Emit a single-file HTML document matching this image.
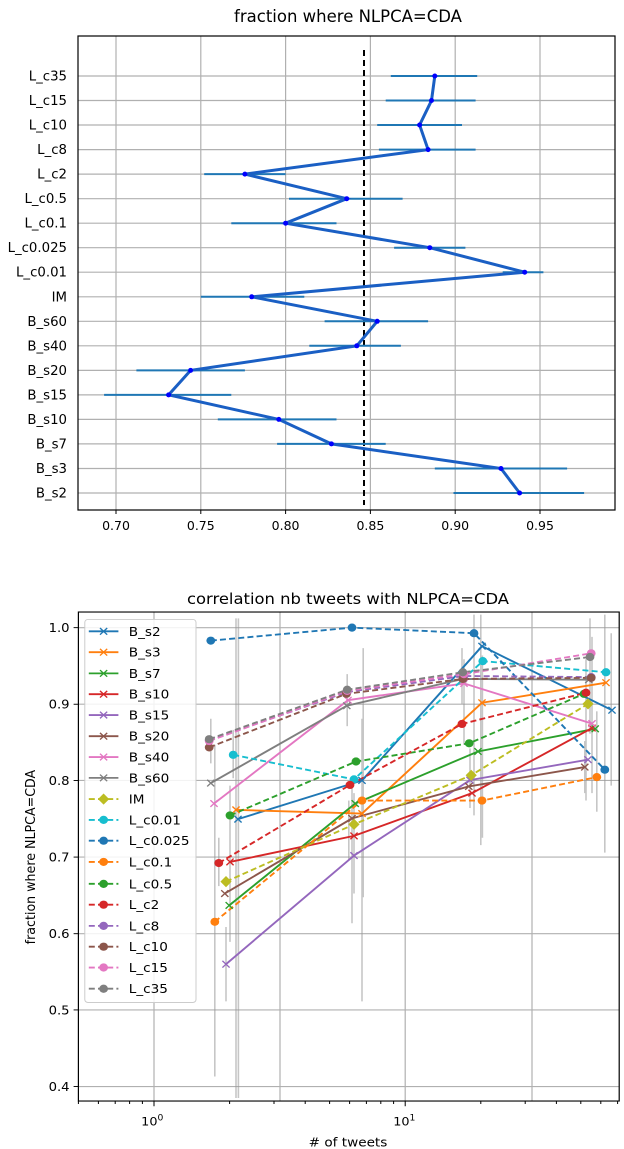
<!DOCTYPE html>
<html><head><meta charset="utf-8"><style>
html,body{margin:0;padding:0;background:#fff;width:624px;height:1149px;overflow:hidden}
svg{position:absolute;left:0;display:block}
text{font-family:"DejaVu Sans","Liberation Sans",sans-serif;fill:#000}
</style></head><body>
<svg style="top:0" width="624" height="560" viewBox="0 0 624 560">
<text x="348" y="22" font-size="16.5" text-anchor="middle">fraction where NLPCA=CDA</text>
<g stroke="#b0b0b0" stroke-width="1.2">
<line x1="116" y1="36" x2="116" y2="510"/><line x1="200.8" y1="36" x2="200.8" y2="510"/><line x1="285.6" y1="36" x2="285.6" y2="510"/><line x1="370.4" y1="36" x2="370.4" y2="510"/><line x1="455.2" y1="36" x2="455.2" y2="510"/><line x1="540" y1="36" x2="540" y2="510"/>
<line x1="78" x2="615" y1="76" y2="76"/><line x1="78" x2="615" y1="100.5" y2="100.5"/><line x1="78" x2="615" y1="125" y2="125"/><line x1="78" x2="615" y1="149.6" y2="149.6"/><line x1="78" x2="615" y1="174.1" y2="174.1"/><line x1="78" x2="615" y1="198.7" y2="198.7"/><line x1="78" x2="615" y1="223.2" y2="223.2"/><line x1="78" x2="615" y1="247.7" y2="247.7"/><line x1="78" x2="615" y1="272.2" y2="272.2"/><line x1="78" x2="615" y1="296.8" y2="296.8"/><line x1="78" x2="615" y1="321.3" y2="321.3"/><line x1="78" x2="615" y1="345.8" y2="345.8"/><line x1="78" x2="615" y1="370.4" y2="370.4"/><line x1="78" x2="615" y1="394.9" y2="394.9"/><line x1="78" x2="615" y1="419.4" y2="419.4"/><line x1="78" x2="615" y1="443.9" y2="443.9"/><line x1="78" x2="615" y1="468.5" y2="468.5"/><line x1="78" x2="615" y1="493" y2="493"/>
</g>
<line x1="364" y1="50" x2="364" y2="505" stroke="#000" stroke-width="2" stroke-dasharray="6,4"/>
<g stroke="#1f77b4" stroke-width="2">
<line x1="390.8" x2="477.2" y1="76" y2="76"/><line x1="385.7" x2="475.6" y1="100.5" y2="100.5"/><line x1="377.2" x2="462" y1="125" y2="125"/><line x1="378.9" x2="475.6" y1="149.6" y2="149.6"/><line x1="204.2" x2="285.6" y1="174.1" y2="174.1"/><line x1="289" x2="402.6" y1="198.7" y2="198.7"/><line x1="231.3" x2="336.5" y1="223.2" y2="223.2"/><line x1="394.1" x2="465.4" y1="247.7" y2="247.7"/><line x1="502.7" x2="543.4" y1="272.2" y2="272.2"/><line x1="200.8" x2="304.3" y1="296.8" y2="296.8"/><line x1="324.6" x2="428.1" y1="321.3" y2="321.3"/><line x1="309.3" x2="400.9" y1="345.8" y2="345.8"/><line x1="136.4" x2="244.9" y1="370.4" y2="370.4"/><line x1="104.1" x2="231.3" y1="394.9" y2="394.9"/><line x1="217.8" x2="336.5" y1="419.4" y2="419.4"/><line x1="277.1" x2="385.7" y1="443.9" y2="443.9"/><line x1="434.8" x2="567.1" y1="468.5" y2="468.5"/><line x1="453.5" x2="584.1" y1="493" y2="493"/>
</g>
<polyline fill="none" stroke="#1a5fc4" stroke-width="3" points="434.8,76 431.5,100.5 419.6,125 428.1,149.6 244.9,174.1 346.7,198.7 285.6,223.2 429.8,247.7 524.7,272.2 251.7,296.8 377.2,321.3 356.8,345.8 190.6,370.4 168.6,394.9 278.8,419.4 331.4,443.9 501,468.5 519.6,493"/>
<g fill="#0000ff">
<circle cx="434.8" cy="76" r="2.5"/><circle cx="431.5" cy="100.5" r="2.5"/><circle cx="419.6" cy="125" r="2.5"/><circle cx="428.1" cy="149.6" r="2.5"/><circle cx="244.9" cy="174.1" r="2.5"/><circle cx="346.7" cy="198.7" r="2.5"/><circle cx="285.6" cy="223.2" r="2.5"/><circle cx="429.8" cy="247.7" r="2.5"/><circle cx="524.7" cy="272.2" r="2.5"/><circle cx="251.7" cy="296.8" r="2.5"/><circle cx="377.2" cy="321.3" r="2.5"/><circle cx="356.8" cy="345.8" r="2.5"/><circle cx="190.6" cy="370.4" r="2.5"/><circle cx="168.6" cy="394.9" r="2.5"/><circle cx="278.8" cy="419.4" r="2.5"/><circle cx="331.4" cy="443.9" r="2.5"/><circle cx="501" cy="468.5" r="2.5"/><circle cx="519.6" cy="493" r="2.5"/>
</g>
<rect x="78" y="36" width="537" height="474" fill="none" stroke="#000" stroke-width="1.2"/>
<g stroke="#000"><line x1="116" x2="116" y1="510" y2="514"/><line x1="200.8" x2="200.8" y1="510" y2="514"/><line x1="285.6" x2="285.6" y1="510" y2="514"/><line x1="370.4" x2="370.4" y1="510" y2="514"/><line x1="455.2" x2="455.2" y1="510" y2="514"/><line x1="540" x2="540" y1="510" y2="514"/></g>
<g font-size="12.5" text-anchor="middle">
<text x="116" y="530">0.70</text><text x="200.8" y="530">0.75</text><text x="285.6" y="530">0.80</text><text x="370.4" y="530">0.85</text><text x="455.2" y="530">0.90</text><text x="540" y="530">0.95</text></g>
<g font-size="13.3" text-anchor="end">
<text x="67" y="80.5">L_c35</text><text x="67" y="105">L_c15</text><text x="67" y="129.5">L_c10</text><text x="67" y="154">L_c8</text><text x="67" y="178.6">L_c2</text><text x="67" y="203.2">L_c0.5</text><text x="67" y="227.7">L_c0.1</text><text x="67" y="252.2">L_c0.025</text><text x="67" y="276.7">L_c0.01</text><text x="67" y="301.3">IM</text><text x="67" y="325.8">B_s60</text><text x="67" y="350.3">B_s40</text><text x="67" y="374.9">B_s20</text><text x="67" y="399.4">B_s15</text><text x="67" y="423.9">B_s10</text><text x="67" y="448.4">B_s7</text><text x="67" y="473">B_s3</text><text x="67" y="497.5">B_s2</text></g>
</svg>

<svg style="top:570" width="624" height="579" viewBox="0 0 1560 1557" preserveAspectRatio="none">
<defs>
<path id="xm" d="M-9,-9L9,9M-9,9L9,-9" fill="none"/>
<path id="dm" d="M0,-15L14,0L0,15L-14,0Z"/>
</defs>
<text x="870" y="92" font-size="41" text-anchor="middle">correlation nb tweets with NLPCA=CDA</text>
<g stroke="#b0b0b0" stroke-width="3">
<line x1="196" x2="1548" y1="155" y2="155"/><line x1="196" x2="1548" y1="361" y2="361"/><line x1="196" x2="1548" y1="566" y2="566"/><line x1="196" x2="1548" y1="772" y2="772"/><line x1="196" x2="1548" y1="978" y2="978"/><line x1="196" x2="1548" y1="1183" y2="1183"/><line x1="196" x2="1548" y1="1389" y2="1389"/>
<line x1="385" x2="385" y1="113" y2="1428"/><line x1="700" x2="700" y1="113" y2="1428"/><line x1="1013" x2="1013" y1="113" y2="1428"/><line x1="1330" x2="1330" y1="113" y2="1428"/>
</g>
<g stroke="#999" stroke-width="4" opacity="0.55">
<line x1="537" x2="537" y1="470" y2="1362"/><line x1="527" x2="527" y1="400" y2="520"/><line x1="590" x2="590" y1="130" y2="1420"/><line x1="596" x2="596" y1="130" y2="1420"/><line x1="565" x2="565" y1="960" y2="1160"/><line x1="575" x2="575" y1="580" y2="1000"/><line x1="547" x2="547" y1="720" y2="850"/><line x1="583" x2="583" y1="430" y2="560"/>
<line x1="868" x2="868" y1="280" y2="420"/><line x1="880" x2="880" y1="560" y2="950"/><line x1="885" x2="885" y1="600" y2="870"/><line x1="905" x2="905" y1="400" y2="1160"/><line x1="908" x2="908" y1="210" y2="880"/><line x1="872" x2="872" y1="620" y2="780"/>
<line x1="1155" x2="1155" y1="210" y2="360"/><line x1="1160" x2="1160" y1="240" y2="470"/><line x1="1185" x2="1185" y1="120" y2="660"/><line x1="1202" x2="1202" y1="120" y2="740"/><line x1="1206" x2="1206" y1="230" y2="720"/><line x1="1175" x2="1175" y1="480" y2="640"/>
<line x1="1465" x2="1465" y1="240" y2="620"/><line x1="1475" x2="1475" y1="130" y2="440"/><line x1="1480" x2="1480" y1="180" y2="600"/><line x1="1492" x2="1492" y1="380" y2="650"/><line x1="1512" x2="1512" y1="120" y2="760"/><line x1="1528" x2="1528" y1="170" y2="580"/><line x1="1462" x2="1462" y1="460" y2="600"/>
</g>
<g fill="none" stroke-width="5">
<polyline stroke="#1f77b4" points="595,670 905,566 1205,205 1530,377"/>
<polyline stroke="#ff7f0e" points="590,645 905,655 1205,357 1515,303"/>
<polyline stroke="#2ca02c" points="573,902 888,628 1195,488 1488,427"/>
<polyline stroke="#d62728" points="575,785 885,715 1180,600 1480,425"/>
<polyline stroke="#9467bd" points="565,1060 885,768 1175,565 1470,510"/>
<polyline stroke="#8c564b" points="562,870 880,668 1172,582 1462,530"/>
<polyline stroke="#e377c2" points="535,628 870,350 1160,305 1480,413"/>
<polyline stroke="#7f7f7f" points="527,573 867,365 1157,293 1472,295"/>
<g stroke-dasharray="15,8">
<polyline stroke="#bcbd22" points="565,838 885,684 1178,552 1470,360"/>
<polyline stroke="#17becf" points="583,497 885,563 1207,245 1515,275"/>
<polyline stroke="#1f77b4" points="527,190 880,155 1185,170 1512,537"/>
<polyline stroke="#ff7f0e" points="537,946 905,620 1205,620 1492,557"/>
<polyline stroke="#2ca02c" points="575,660 890,515 1173,466 1460,333"/>
<polyline stroke="#d62728" points="547,788 875,578 1155,414 1465,330"/>
<polyline stroke="#9467bd" points="523,458 868,328 1160,285 1478,288"/>
<polyline stroke="#8c564b" points="523,477 866,333 1157,293 1478,290"/>
<polyline stroke="#e377c2" points="523,460 868,325 1160,280 1478,224"/>
<polyline stroke="#7f7f7f" points="523,455 868,322 1157,275 1475,234"/>
</g></g>
<g stroke-width="3.5">
<g stroke="#1f77b4"><use href="#xm" x="595" y="670"/><use href="#xm" x="905" y="566"/><use href="#xm" x="1205" y="205"/><use href="#xm" x="1530" y="377"/></g>
<g stroke="#ff7f0e"><use href="#xm" x="590" y="645"/><use href="#xm" x="905" y="655"/><use href="#xm" x="1205" y="357"/><use href="#xm" x="1515" y="303"/></g>
<g stroke="#2ca02c"><use href="#xm" x="573" y="902"/><use href="#xm" x="888" y="628"/><use href="#xm" x="1195" y="488"/><use href="#xm" x="1488" y="427"/></g>
<g stroke="#d62728"><use href="#xm" x="575" y="785"/><use href="#xm" x="885" y="715"/><use href="#xm" x="1180" y="600"/><use href="#xm" x="1480" y="425"/></g>
<g stroke="#9467bd"><use href="#xm" x="565" y="1060"/><use href="#xm" x="885" y="768"/><use href="#xm" x="1175" y="565"/><use href="#xm" x="1470" y="510"/></g>
<g stroke="#8c564b"><use href="#xm" x="562" y="870"/><use href="#xm" x="880" y="668"/><use href="#xm" x="1172" y="582"/><use href="#xm" x="1462" y="530"/></g>
<g stroke="#e377c2"><use href="#xm" x="535" y="628"/><use href="#xm" x="870" y="350"/><use href="#xm" x="1160" y="305"/><use href="#xm" x="1480" y="413"/></g>
<g stroke="#7f7f7f"><use href="#xm" x="527" y="573"/><use href="#xm" x="867" y="365"/><use href="#xm" x="1157" y="293"/><use href="#xm" x="1472" y="295"/></g>
</g>
<g fill="#bcbd22"><use href="#dm" x="565" y="838"/><use href="#dm" x="885" y="684"/><use href="#dm" x="1178" y="552"/><use href="#dm" x="1470" y="360"/></g>
<g fill="#17becf"><circle cx="583" cy="497" r="11"/><circle cx="885" cy="563" r="11"/><circle cx="1207" cy="245" r="11"/><circle cx="1515" cy="275" r="11"/></g>
<g fill="#1f77b4"><circle cx="527" cy="190" r="11"/><circle cx="880" cy="155" r="11"/><circle cx="1185" cy="170" r="11"/><circle cx="1512" cy="537" r="11"/></g>
<g fill="#ff7f0e"><circle cx="537" cy="946" r="11"/><circle cx="905" cy="620" r="11"/><circle cx="1205" cy="620" r="11"/><circle cx="1492" cy="557" r="11"/></g>
<g fill="#2ca02c"><circle cx="575" cy="660" r="11"/><circle cx="890" cy="515" r="11"/><circle cx="1173" cy="466" r="11"/><circle cx="1460" cy="333" r="11"/></g>
<g fill="#d62728"><circle cx="547" cy="788" r="11"/><circle cx="875" cy="578" r="11"/><circle cx="1155" cy="414" r="11"/><circle cx="1465" cy="330" r="11"/></g>
<g fill="#9467bd"><circle cx="523" cy="458" r="11"/><circle cx="868" cy="328" r="11"/><circle cx="1160" cy="285" r="11"/><circle cx="1478" cy="288" r="11"/></g>
<g fill="#8c564b"><circle cx="523" cy="477" r="11"/><circle cx="866" cy="333" r="11"/><circle cx="1157" cy="293" r="11"/><circle cx="1478" cy="290" r="11"/></g>
<g fill="#e377c2"><circle cx="523" cy="460" r="11"/><circle cx="868" cy="325" r="11"/><circle cx="1160" cy="280" r="11"/><circle cx="1478" cy="224" r="11"/></g>
<g fill="#7f7f7f"><circle cx="523" cy="455" r="11"/><circle cx="868" cy="322" r="11"/><circle cx="1157" cy="275" r="11"/><circle cx="1475" cy="234" r="11"/></g>
<rect x="212" y="133" width="278" height="1030" rx="8" fill="#fff" fill-opacity="0.85" stroke="#ccc" stroke-width="2.5"/>
<g fill="none" stroke-width="5">
<line x1="222" x2="296" y1="165" y2="165" stroke="#1f77b4"/><line x1="222" x2="296" y1="221" y2="221" stroke="#ff7f0e"/><line x1="222" x2="296" y1="278" y2="278" stroke="#2ca02c"/><line x1="222" x2="296" y1="334" y2="334" stroke="#d62728"/><line x1="222" x2="296" y1="390" y2="390" stroke="#9467bd"/><line x1="222" x2="296" y1="447" y2="447" stroke="#8c564b"/><line x1="222" x2="296" y1="503" y2="503" stroke="#e377c2"/><line x1="222" x2="296" y1="559" y2="559" stroke="#7f7f7f"/>
<g stroke-dasharray="15,8">
<line x1="222" x2="296" y1="616" y2="616" stroke="#bcbd22"/><line x1="222" x2="296" y1="672" y2="672" stroke="#17becf"/><line x1="222" x2="296" y1="728" y2="728" stroke="#1f77b4"/><line x1="222" x2="296" y1="785" y2="785" stroke="#ff7f0e"/><line x1="222" x2="296" y1="844" y2="844" stroke="#2ca02c"/><line x1="222" x2="296" y1="900" y2="900" stroke="#d62728"/><line x1="222" x2="296" y1="957" y2="957" stroke="#9467bd"/><line x1="222" x2="296" y1="1013" y2="1013" stroke="#8c564b"/><line x1="222" x2="296" y1="1069" y2="1069" stroke="#e377c2"/><line x1="222" x2="296" y1="1126" y2="1126" stroke="#7f7f7f"/>
</g></g>
<g stroke-width="3.5">
<use href="#xm" x="259" y="165" stroke="#1f77b4"/><use href="#xm" x="259" y="221" stroke="#ff7f0e"/><use href="#xm" x="259" y="278" stroke="#2ca02c"/><use href="#xm" x="259" y="334" stroke="#d62728"/><use href="#xm" x="259" y="390" stroke="#9467bd"/><use href="#xm" x="259" y="447" stroke="#8c564b"/><use href="#xm" x="259" y="503" stroke="#e377c2"/><use href="#xm" x="259" y="559" stroke="#7f7f7f"/>
</g>
<use href="#dm" x="259" y="616" fill="#bcbd22"/>
<circle cx="259" cy="672" r="11" fill="#17becf"/><circle cx="259" cy="728" r="11" fill="#1f77b4"/><circle cx="259" cy="785" r="11" fill="#ff7f0e"/><circle cx="259" cy="844" r="11" fill="#2ca02c"/><circle cx="259" cy="900" r="11" fill="#d62728"/><circle cx="259" cy="957" r="11" fill="#9467bd"/><circle cx="259" cy="1013" r="11" fill="#8c564b"/><circle cx="259" cy="1069" r="11" fill="#e377c2"/><circle cx="259" cy="1126" r="11" fill="#7f7f7f"/>
<g font-size="34">
<text x="322" y="177">B_s2</text><text x="322" y="233">B_s3</text><text x="322" y="290">B_s7</text><text x="322" y="346">B_s10</text><text x="322" y="402">B_s15</text><text x="322" y="459">B_s20</text><text x="322" y="515">B_s40</text><text x="322" y="571">B_s60</text><text x="322" y="628">IM</text><text x="322" y="684">L_c0.01</text><text x="322" y="740">L_c0.025</text><text x="322" y="797">L_c0.1</text><text x="322" y="856">L_c0.5</text><text x="322" y="912">L_c2</text><text x="322" y="969">L_c8</text><text x="322" y="1025">L_c10</text><text x="322" y="1081">L_c15</text><text x="322" y="1138">L_c35</text>
</g>
<rect x="196" y="113" width="1352" height="1315" fill="none" stroke="#000" stroke-width="3"/>
<g stroke="#000" stroke-width="2.5">
<line x1="385" x2="385" y1="1428" y2="1442"/><line x1="1013" x2="1013" y1="1428" y2="1442"/>
<line x1="196" x2="196" y1="1428" y2="1436"/><line x1="246" x2="246" y1="1428" y2="1436"/><line x1="288" x2="288" y1="1428" y2="1436"/><line x1="324" x2="324" y1="1428" y2="1436"/><line x1="356" x2="356" y1="1428" y2="1436"/>
<line x1="574" x2="574" y1="1428" y2="1436"/><line x1="685" x2="685" y1="1428" y2="1436"/><line x1="763" x2="763" y1="1428" y2="1436"/><line x1="824" x2="824" y1="1428" y2="1436"/><line x1="874" x2="874" y1="1428" y2="1436"/><line x1="916" x2="916" y1="1428" y2="1436"/><line x1="952" x2="952" y1="1428" y2="1436"/><line x1="984" x2="984" y1="1428" y2="1436"/>
<line x1="1202" x2="1202" y1="1428" y2="1436"/><line x1="1313" x2="1313" y1="1428" y2="1436"/><line x1="1391" x2="1391" y1="1428" y2="1436"/><line x1="1452" x2="1452" y1="1428" y2="1436"/><line x1="1502" x2="1502" y1="1428" y2="1436"/><line x1="1544" x2="1544" y1="1428" y2="1436"/>
<line x1="184" x2="196" y1="155" y2="155"/><line x1="184" x2="196" y1="361" y2="361"/><line x1="184" x2="196" y1="566" y2="566"/><line x1="184" x2="196" y1="772" y2="772"/><line x1="184" x2="196" y1="978" y2="978"/><line x1="184" x2="196" y1="1183" y2="1183"/><line x1="184" x2="196" y1="1389" y2="1389"/>
</g>
<g font-size="33" text-anchor="end">
<text x="174" y="167">1.0</text><text x="174" y="373">0.9</text><text x="174" y="578">0.8</text><text x="174" y="784">0.7</text><text x="174" y="990">0.6</text><text x="174" y="1195">0.5</text><text x="174" y="1401">0.4</text></g>
<text x="353" y="1494" font-size="32">10<tspan font-size="23" dy="-13">0</tspan></text>
<text x="983" y="1494" font-size="32">10<tspan font-size="23" dy="-13">1</tspan></text>
<text x="870" y="1550" font-size="34" text-anchor="middle"># of tweets</text>
<text transform="translate(88,772) rotate(-90)" font-size="34" text-anchor="middle">fraction where NLPCA=CDA</text>
</svg>
</body></html>
